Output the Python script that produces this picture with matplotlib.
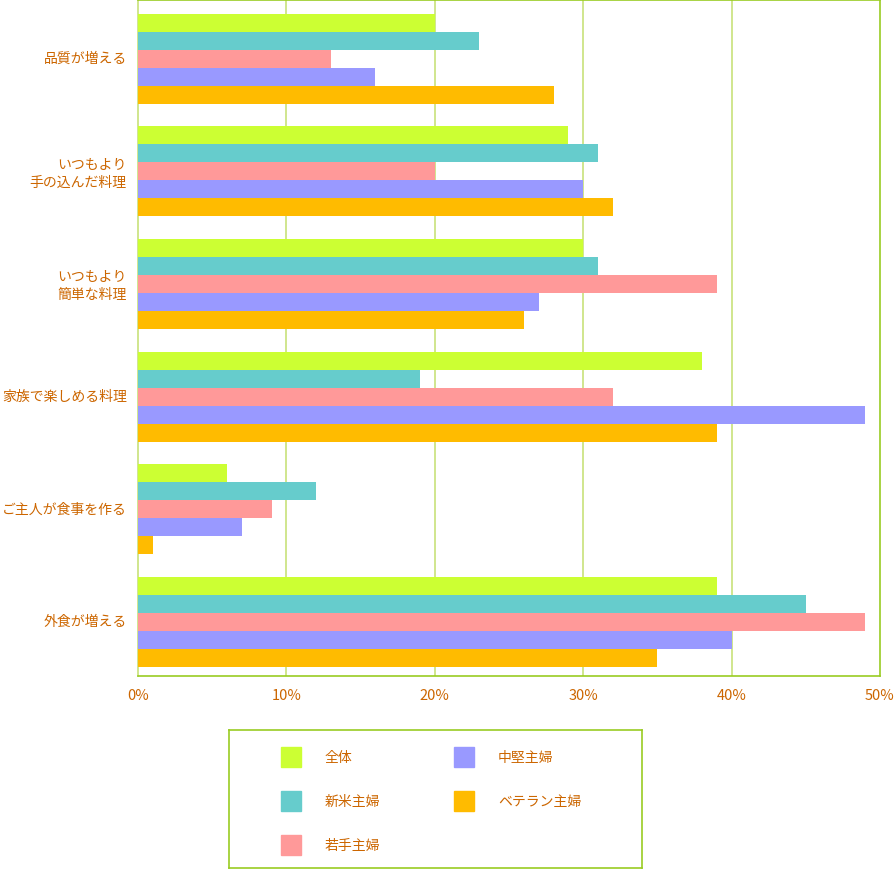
import matplotlib
matplotlib.use("Agg")
import matplotlib.pyplot as plt
from matplotlib.patches import Rectangle
import numpy as np

plt.rcParams['font.family'] = ['Noto Sans CJK JP', 'DejaVu Sans']

categories = ["品質が増える", "いつもより\n手の込んだ料理", "いつもより\n簡単な料理",
              "家族で楽しめる料理", "ご主人が食事を作る", "外食が増える"]
series_names = ["全体", "新米主婦", "若手主婦", "中堅主婦", "ベテラン主婦"]
zentai = [20, 29, 30, 38, 6, 39]
shinmai = [23, 31, 31, 19, 12, 45]
wakate = [13, 20, 39, 32, 9, 49]
chuken = [16, 30, 27, 49, 7, 40]
veteran = [28, 32, 26, 39, 1, 35]
xticks = [0, 10, 20, 30, 40, 50]
xtick_labels = ["0%", "10%", "20%", "30%", "40%", "50%"]

values = [zentai, shinmai, wakate, chuken, veteran]
colors = ["#ccff33", "#66cccc", "#ff9999", "#9999ff", "#ffbb00"]
text_color = "#cc6600"
frame_color = "#99cc22"
grid_color = "#c8e27a"

W, H = 896, 870
fig = plt.figure(figsize=(W / 100, H / 100), dpi=100)
ax = fig.add_axes([138 / W, 1 - 677 / H, (880 - 138) / W, (677 - 1) / H])

n = len(categories)
bh = 0.16
y = np.arange(n)
for i, (vals, c) in enumerate(zip(values, colors)):
    offs = (i - 2) * bh + 0.02
    ax.barh(y + offs, vals, height=bh, color=c, edgecolor='none', zorder=3)

ax.set_ylim(n - 0.5, -0.5)
ax.set_xlim(0, 50)
ax.set_xticks(xticks)
ax.set_xticklabels(xtick_labels, color=text_color, fontsize=10.5)
ax.set_yticks(y)
ax.set_yticklabels(categories, color=text_color, fontsize=10, linespacing=1.35)
ax.tick_params(axis='both', length=0)
ax.tick_params(axis='x', pad=9)
ax.tick_params(axis='y', pad=8)
for xv in xticks[1:-1]:
    ax.axvline(xv, color=grid_color, lw=1.2, zorder=1)
for side in ['top', 'right', 'bottom']:
    ax.spines[side].set_color(frame_color)
    ax.spines[side].set_linewidth(1.2)
ax.spines['left'].set_color(grid_color)
ax.spines['left'].set_linewidth(1.2)

# legend box
lax = fig.add_axes([229 / W, 1 - 869 / H, (642 - 229) / W, (869 - 731) / H])
lax.set_xlim(0, 413)
lax.set_ylim(138, 0)
lax.set_xticks([])
lax.set_yticks([])
for s in lax.spines.values():
    s.set_color(frame_color)
    s.set_linewidth(1.2)
positions = [(52, 27), (52, 71), (52, 115), (225, 27), (225, 71)]
for (px, py), name, c in zip(positions, series_names, colors):
    lax.add_patch(Rectangle((px, py - 10), 20, 20, color=c))
    lax.text(px + 44, py, name, color=text_color, fontsize=10, va='center', ha='left')

fig.savefig("out.png", dpi=100)
